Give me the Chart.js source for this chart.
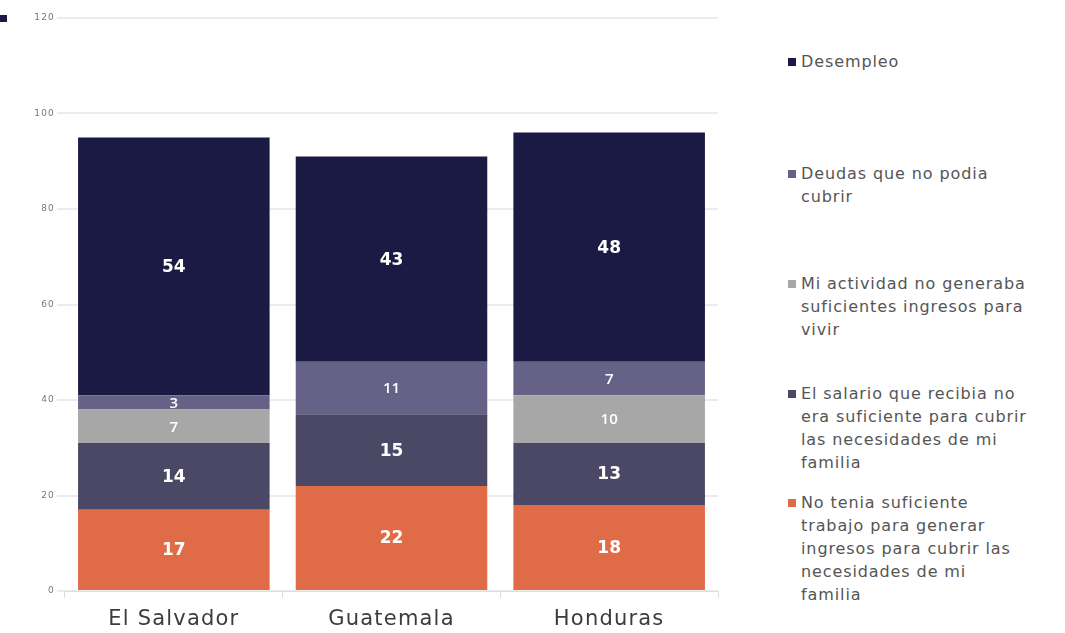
<!DOCTYPE html>
<html>
<head>
<meta charset="utf-8">
<script src="https://cdn.jsdelivr.net/npm/chart.js@4/dist/chart.umd.min.js"></script>
<style>
  html, body { margin: 0; padding: 0; background: #fff; }
  body { width: 1065px; height: 633px; position: relative; overflow: hidden; font-family: "DejaVu Sans", sans-serif; }
  #wrap { position: absolute; left: 0; top: 0; width: 722px; height: 633px; }
  #corner { position: absolute; left: 0; top: 15px; width: 7px; height: 7px; background: #1b1a45; }
  #legend { position: absolute; left: 787px; top: 0; width: 275px; }
  .item { position: absolute; left: 0; }
  .box { position: absolute; left: 1px; top: 8px; width: 8px; height: 8px; }
  .txt { margin-left: 14px; font-size: 16px; line-height: 23px; letter-spacing: 0.9px; color: #555; white-space: nowrap; }
</style>
</head>
<body>
<div id="wrap"><canvas id="c"></canvas></div>
<div id="corner"></div>
<div id="legend"></div>
<script>
// Countries along the x axis
const countries = ["El Salvador", "Guatemala", "Honduras"];

// Share of respondents per reason (stacked bottom to top)
const noTenia   = [17, 22, 18];
const salario   = [14, 15, 13];
const actividad = [7, 0, 10];
const deudas    = [3, 11, 7];
const desempleo = [54, 43, 48];

// Reason names, split into the lines shown in the legend
const nameNoTenia   = ["No tenia suficiente", "trabajo para generar", "ingresos para cubrir las", "necesidades de mi", "familia"];
const nameSalario   = ["El salario que recibia no", "era suficiente para cubrir", "las necesidades de mi", "familia"];
const nameActividad = ["Mi actividad no generaba", "suficientes ingresos para", "vivir"];
const nameDeudas    = ["Deudas que no podia", "cubrir"];
const nameDesempleo = ["Desempleo"];

// Y axis tick values
const yTicks = [0, 20, 40, 60, 80, 100, 120];

const big = "bold 17px 'DejaVu Sans', sans-serif";
const small = "600 15px 'Open Sans', sans-serif";

const datasets = [
  { label: nameNoTenia,   data: noTenia,   backgroundColor: "#e06b47", valueFont: big },
  { label: nameSalario,   data: salario,   backgroundColor: "#4b4866", valueFont: big },
  { label: nameActividad, data: actividad, backgroundColor: "#a7a7a7", valueFont: small },
  { label: nameDeudas,    data: deudas,    backgroundColor: "#666287", valueFont: small },
  { label: nameDesempleo, data: desempleo, backgroundColor: "#1b1a45", valueFont: big }
];

// Slightly spaced lettering for the axis text
const axisSpacing = {
  id: "axisSpacing",
  beforeDraw(chart) { chart.ctx.letterSpacing = "1.2px"; },
  beforeDatasetsDraw(chart) { chart.ctx.letterSpacing = "0px"; }
};

// Writes each segment's value in the middle of its bar piece
const segmentValues = {
  id: "segmentValues",
  afterDatasetsDraw(chart) {
    const ctx = chart.ctx;
    ctx.save();
    ctx.letterSpacing = "0px";
    ctx.fillStyle = "#ffffff";
    ctx.textAlign = "center";
    ctx.textBaseline = "middle";
    chart.data.datasets.forEach((ds, di) => {
      const meta = chart.getDatasetMeta(di);
      ctx.font = ds.valueFont;
      meta.data.forEach((bar, i) => {
        const v = ds.data[i];
        if (!v) return;
        const mid = (bar.y + bar.base) / 2;
        ctx.fillText(String(v), bar.x, mid + 1);
      });
    });
    ctx.restore();
  }
};

const chart = new Chart(document.getElementById("c"), {
  type: "bar",
  data: { labels: countries, datasets: datasets },
  options: {
    responsive: true,
    maintainAspectRatio: false,
    animation: false,
    layout: { padding: { top: 18, right: 4, left: 0, bottom: 0 } },
    plugins: { legend: { display: false }, tooltip: { enabled: false } },
    datasets: { bar: { categoryPercentage: 0.88, barPercentage: 1.0, borderWidth: 0 } },
    scales: {
      x: {
        stacked: true,
        grid: { display: true, drawOnChartArea: false, drawTicks: true, tickLength: 7, color: "#dddddd", lineWidth: 1 },
        border: { display: true, color: "#dddddd", width: 1 },
        ticks: { color: "#3c3c3c", font: { family: "'DejaVu Sans', sans-serif", size: 21 }, padding: 9 },
        afterFit(s) { s.height = 42; }
      },
      y: {
        stacked: true,
        min: 0,
        max: 120,
        afterBuildTicks(s) { s.ticks = yTicks.map(v => ({ value: v })); },
        grid: { color: "#ececec", lineWidth: 2, drawTicks: true, tickLength: 8 },
        border: { display: false },
        ticks: { color: "#777", font: { family: "'DejaVu Sans', sans-serif", size: 9 }, padding: 2 },
        afterFit(s) { s.width = 65; }
      }
    }
  },
  plugins: [axisSpacing, segmentValues]
});

// Legend on the right, top entry is the top segment
const legend = document.getElementById("legend");
const tops = [50, 162, 272, 382, 491];
datasets.slice().reverse().forEach((ds, i) => {
  const item = document.createElement("div");
  item.className = "item";
  item.style.top = tops[i] + "px";
  const box = document.createElement("div");
  box.className = "box";
  box.style.background = ds.backgroundColor;
  const txt = document.createElement("div");
  txt.className = "txt";
  txt.innerHTML = ds.label.map(l => l.replace(/&/g, "&amp;").replace(/</g, "&lt;")).join("<br>");
  item.appendChild(box);
  item.appendChild(txt);
  legend.appendChild(item);
});
</script>
</body>
</html>
